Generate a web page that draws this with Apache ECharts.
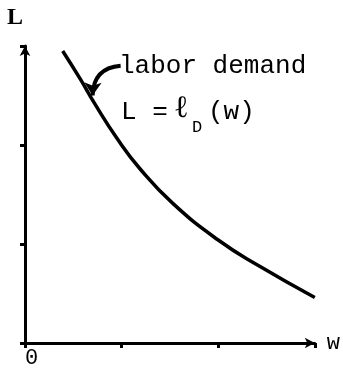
<!DOCTYPE html>
<html>
<head>
<meta charset="utf-8">
<script src="https://cdn.jsdelivr.net/npm/echarts@6/dist/echarts.min.js"></script>
<style>
  html, body { margin: 0; padding: 0; background: #fff; }
  #chart { width: 343px; height: 375px; }
</style>
</head>
<body>
<div id="chart"></div>
<script>
// Labor demand curve L = l_D(w) (axis units 0..3)
const wageValues = [0.39, 0.57, 0.72, 0.95, 1.19, 1.53, 2.00, 2.42, 3.00];
const laborValues = [2.95, 2.67, 2.42, 2.07, 1.76, 1.41, 1.04, 0.78, 0.46];
const xTickLabels = ['0', '', '', ''];
// annotation arrow: from the text back to the curve
const arrowFrom = [0.99, 2.80];
const arrowTo = [0.70, 2.50];

const MONO = '"Liberation Mono", "DejaVu Sans Mono", monospace';
const INK = '#000';

const chart = echarts.init(document.getElementById('chart'), null, { renderer: 'canvas' });

const curveData = wageValues.map((w, i) => [w, laborValues[i]]);

const option = {
  animation: false,
  backgroundColor: '#fff',
  grid: { left: 25, right: 27, top: 46, bottom: 32 },
  xAxis: {
    type: 'value',
    min: 0,
    max: 3,
    interval: 1,
    name: 'w',
    nameLocation: 'end',
    nameGap: 12,
    nameTextStyle: { fontFamily: MONO, fontSize: 22, color: INK, verticalAlign: 'middle', padding: [4, 0, 0, 0] },
    axisLine: { lineStyle: { color: INK, width: 3 }, symbol: ['none', 'arrow'], symbolSize: [8, 10] },
    axisTick: { show: true, length: 5, lineStyle: { color: INK, width: 3 } },
    axisLabel: {
      formatter: v => xTickLabels[v] || '',
      fontFamily: MONO, fontSize: 22, color: INK, align: 'left', margin: 4
    },
    splitLine: { show: false }
  },
  yAxis: {
    type: 'value',
    min: 0,
    max: 3,
    interval: 1,
    name: 'L',
    nameLocation: 'end',
    nameGap: 16,
    nameTextStyle: {
      fontFamily: '"Liberation Serif", serif', fontWeight: 'bold', fontSize: 24,
      color: INK, align: 'center', padding: [0, 20, 0, 0]
    },
    axisLine: { lineStyle: { color: INK, width: 3 }, symbol: ['none', 'arrow'], symbolSize: [8, 10] },
    axisTick: { show: true, length: 5, lineStyle: { color: INK, width: 3 } },
    axisLabel: { show: false },
    splitLine: { show: false }
  },
  series: [
    {
      name: 'labor demand',
      type: 'line',
      data: curveData,
      smooth: 0.5,
      showSymbol: false,
      lineStyle: { color: INK, width: 3.5 }
    },
    {
      // curled pointer from the label to the curve
      type: 'lines',
      coordinateSystem: 'cartesian2d',
      silent: true,
      symbol: ['none', 'arrow'],
      symbolSize: 13,
      lineStyle: { color: INK, width: 4, opacity: 1, curveness: -0.45 },
      data: [{ coords: [arrowFrom, arrowTo] }]
    }
  ],
  graphic: [
    {
      type: 'text', left: 119, top: 53,
      style: { text: 'labor demand', fontFamily: MONO, fontSize: 26, fill: INK }
    },
    {
      type: 'text', left: 121, top: 99,
      style: { text: 'L =', fontFamily: MONO, fontSize: 26, fill: INK }
    },
    {
      type: 'text', left: 174, top: 93,
      style: { text: '\u2113', fontFamily: '"DejaVu Serif", serif', fontSize: 31, fill: INK }
    },
    {
      type: 'text', left: 192, top: 119,
      style: { text: 'D', fontFamily: MONO, fontSize: 17, fill: INK }
    },
    {
      type: 'text', left: 208, top: 99,
      style: { text: '(w)', fontFamily: MONO, fontSize: 26, fill: INK }
    }
  ]
};

chart.setOption(option);
window.addEventListener('resize', () => chart.resize());
</script>
</body>
</html>
